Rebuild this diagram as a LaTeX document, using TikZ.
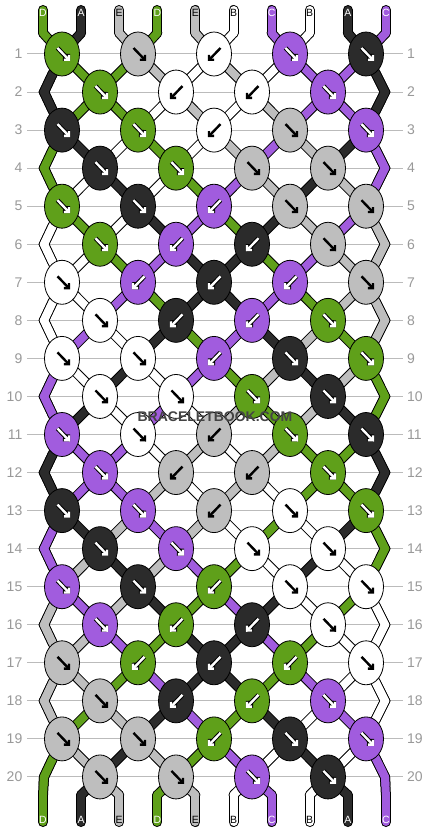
\documentclass[tikz,border=0pt]{standalone}
\usepackage{fontspec}
\setmainfont{Liberation Sans}
\usetikzlibrary{shapes.geometric, arrows.meta, calc}

% String colours
\definecolor{colA}{HTML}{2B2B2B}
\definecolor{colB}{HTML}{FFFFFF}
\definecolor{colC}{HTML}{A15CDE}
\definecolor{colD}{HTML}{5FA01A}
\definecolor{colE}{HTML}{BEBEBE}
\definecolor{gridgray}{HTML}{BBBBBB}
\definecolor{labelgray}{HTML}{999999}
\definecolor{markgray}{HTML}{444444}
% Arrow and letter colours on each string colour
\colorlet{inA}{white}\colorlet{outA}{black}
\colorlet{inB}{black}\colorlet{outB}{colB}
\colorlet{inC}{white}\colorlet{outC}{black}
\colorlet{inD}{white}\colorlet{outD}{black}
\colorlet{inE}{black}\colorlet{outE}{colE}

% Strings in each gap between rows (0 = top end, 1 = top bend, q = knot row q-1)
\def\strandrows{
    0/{D,A,E,D,E,B,C,B,A,C}, 1/{D,A,E,D,E,B,C,B,A,C},
    2/{A,D,D,E,B,E,B,C,C,A}, 3/{A,D,D,B,E,B,E,C,C,A},
    4/{D,A,B,D,B,E,C,E,A,C}, 5/{D,B,A,B,D,C,E,A,E,C},
    6/{B,D,B,A,C,D,A,E,C,E}, 7/{B,B,D,C,A,A,D,C,E,E},
    8/{B,B,C,D,A,A,C,D,E,E}, 9/{B,C,B,A,D,C,A,E,D,E},
    10/{C,B,A,B,C,D,E,A,E,D}, 11/{C,A,B,C,B,E,D,E,A,D},
    12/{A,C,C,B,E,B,E,D,D,A}, 13/{A,C,C,E,B,E,B,D,D,A},
    14/{C,A,E,C,E,B,D,B,A,D}, 15/{C,E,A,E,C,D,B,A,B,D},
    16/{E,C,E,A,D,C,A,B,D,B}, 17/{E,E,C,D,A,A,C,D,B,B},
    18/{E,E,D,C,A,A,D,C,B,B}, 19/{E,D,E,A,C,D,A,B,C,B},
    20/{D,E,A,E,D,C,B,A,B,C}, 21/{D,A,E,D,E,B,C,B,A,C},
    22/{D,A,E,D,E,B,C,B,A,C}}

% Knots of each row: colour / direction (1 forward, -1 backward)
\def\knotrows{
    1/{D/1,E/1,B/-1,C/1,A/1}, 2/{D/1,B/-1,B/-1,C/1},
    3/{A/1,D/1,B/-1,E/1,C/1}, 4/{A/1,D/1,E/1,E/1},
    5/{D/1,A/1,C/-1,E/1,E/1}, 6/{D/1,C/-1,A/-1,E/1},
    7/{B/1,C/-1,A/-1,C/-1,E/1}, 8/{B/1,A/-1,C/-1,D/1},
    9/{B/1,B/1,C/-1,A/1,D/1}, 10/{B/1,B/1,D/1,A/1},
    11/{C/1,B/1,E/-1,D/1,A/1}, 12/{C/1,E/-1,E/-1,D/1},
    13/{A/1,C/1,E/-1,B/1,D/1}, 14/{A/1,C/1,B/1,B/1},
    15/{C/1,A/1,D/-1,B/1,B/1}, 16/{C/1,D/-1,A/-1,B/1},
    17/{E/1,D/-1,A/-1,D/-1,B/1}, 18/{E/1,A/-1,D/-1,C/1},
    19/{E/1,E/1,D/-1,A/1,C/1}, 20/{E/1,E/1,C/1,A/1}}

% One pass over all string pieces (#1 = rim or core)
\newcommand{\strandpass}[1]{%
    \foreach \q/\s in \strandrows {
        \foreach \c [count=\p from 0] in \s {
            \pgfmathtruncatemacro\qn{\q+1}
            \pgfmathtruncatemacro\qp{\q-1}
            \draw[#1=\c] (p-\q-\p) -- (p-\qn-\p);
            \pgfmathtruncatemacro\edge{and(and(isodd(\q),\q>2),\q<22)*or(\p==0,\p==9)}
            \ifnum\edge=1
                \draw[#1=\c, line cap=butt] ($(p-\qp-\p)!.5!(p-\q-\p)$) -- (p-\q-\p) -- ($(p-\q-\p)!.5!(p-\qn-\p)$);
            \fi
        }
    }%
}

\begin{document}
\begin{tikzpicture}[
    x=1pt, y=-1pt,
    % Styles
    rim/.style={ % Dark edge of a string
        draw=black,
        line width=10pt,
        line cap=round
    },
    core/.style={ % Coloured body of a string
        draw=col#1,
        line width=8pt,
        line cap=round
    },
    knot/.style={ % Knot
        ellipse,
        draw=black,
        line width=0.8pt,
        fill=col#1,
        minimum width=35pt,
        minimum height=44pt,
        inner sep=0pt
    },
    arrowrim/.style={ % Outline of a knot arrow
        line width=4.4pt,
        -{Straight Barb[length=3.4pt,width=7pt]}
    },
    arrowcore/.style={ % Knot arrow
        line width=2.4pt,
        -{Straight Barb[length=3.4pt,width=7pt]}
    },
    gridline/.style={
        draw=gridgray,
        line width=1pt
    },
    rowlabel/.style={
        text=labelgray,
        font=\fontsize{14}{14}\selectfont,
        inner sep=0pt
    },
    strlabel/.style={
        font=\fontsize{10.5}{10.5}\selectfont,
        inner sep=0pt
    }
]
    \useasboundingbox (0,0) rectangle (430,832);
    \fill[white] (0,0) rectangle (430,832);

    % Row lines and numbers
    \foreach \r in {1,...,20} {
        \pgfmathsetmacro\yy{54+38.05*(\r-1)}
        \draw[gridline] (27,\yy) -- (403,\yy);
        \node[rowlabel, anchor=east] (left-\r) at (22.5,\yy) {\r};
        \node[rowlabel, anchor=west] (right-\r) at (407,\yy) {\r};
    }

    % Points the strings pass through
    \foreach \q in {0,...,23} {
        \foreach \p in {0,...,9} {
            \pgfmathsetmacro\xx{(\q<2 || \q>21) ? 43+38.1*\p : (iseven(\q) ? 62+76*int(\p/2) : (\p==0 ? 44 : (\p==9 ? 385 : 100+76*int((\p-1)/2))))}
            \pgfmathsetmacro\yy{\q==0 ? 10 : (\q==1 ? 33 : (\q==22 ? 795 : (\q==23 ? 822 : 54+38.05*(\q-2))))}
            \coordinate (p-\q-\p) at (\xx,\yy);
        }
    }

    % Strings
    \strandpass{rim}
    \strandpass{core}

    % Knots and arrows
    \foreach \r/\ks in \knotrows {
        \foreach \c/\sg [count=\k from 0] in \ks {
            \pgfmathsetmacro\xx{isodd(\r) ? 62+76*\k : 100+76*\k}
            \pgfmathsetmacro\yy{54+38.05*(\r-1)}
            \node[knot=\c] (k-\r-\k) at (\xx,\yy) {};
            \draw[arrowrim, draw=out\c] ({\xx-5.5*(\sg)+1},{\yy-6}) -- ({\xx+7*(\sg)+1},{\yy+7});
            \draw[arrowcore, draw=in\c] ({\xx-5.5*(\sg)+1},{\yy-6}) -- ({\xx+7*(\sg)+1},{\yy+7});
        }
    }

    % String letters
    \foreach \c [count=\p from 0] in {D,A,E,D,E,B,C,B,A,C} {
        \node[strlabel, text=in\c] (top-\p) at ($(p-0-\p)+(0,3)$) {\c};
        \node[strlabel, text=in\c] (bot-\p) at ($(p-23-\p)+(0,-2)$) {\c};
    }

    % Watermark
    \node[font=\bfseries\fontsize{14}{14}\selectfont, text=markgray] (mark) at (215,417) {BRACELETBOOK.COM};
\end{tikzpicture}
\end{document}
